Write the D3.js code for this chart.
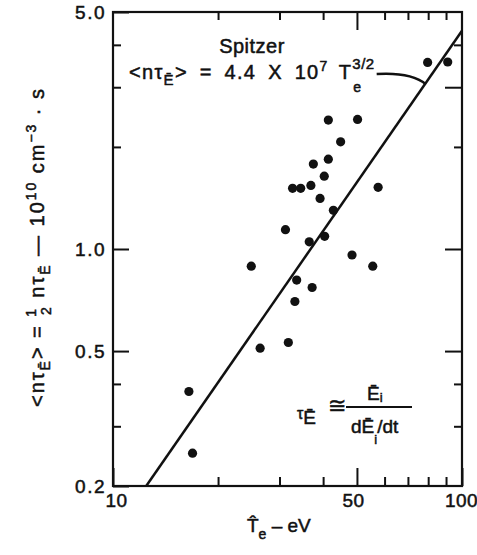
<!DOCTYPE html>
<html>
<head>
<meta charset="utf-8">
<script src="https://cdn.jsdelivr.net/npm/d3@7"></script>
<style>
  body { margin: 0; background: #fff; }
  text { font-family: "Liberation Sans", Arial, sans-serif; fill: #111; stroke: #111; stroke-width: 0.5px; }
</style>
</head>
<body>
<script>
// electron temperature (eV) and confinement parameter <n tau_E> (1e10 cm^-3 s)
const temps = [41.4, 50.2, 44.9, 41.4, 37.5, 40.3, 36.9, 32.7, 34.5, 39.2, 57.5, 42.8, 31.2, 36.5,
               40.4, 24.9, 48.4, 55.5, 33.6, 37.2, 33.2, 31.8, 26.4, 16.5, 16.9, 79.7, 91.0];
const ntau  = [2.40, 2.41, 2.07, 1.84, 1.78, 1.64, 1.54, 1.51, 1.51, 1.41, 1.52, 1.30, 1.14, 1.05,
               1.09, 0.89, 0.96, 0.89, 0.81, 0.77, 0.70, 0.53, 0.51, 0.38, 0.25, 3.55, 3.56];

// Spitzer line end points
const spitzerT = [12.45, 100];
const spitzerN = [0.2, 4.4];

const xLabelTicks = [10, 50, 100];
const xMinorTicks = [20, 30, 40, 60, 70, 80, 90];
const yLabelTicks = [0.2, 0.5, 1.0, 5.0];
const yMinorTicks = [0.3, 0.4, 2, 3, 4];

const W = 477, H = 555;
const pl = 113, pr = 462, pt = 12, pb = 486;

const svg = d3.select('body').append('svg')
    .attr('width', W)
    .attr('height', H);

const x = d3.scaleLog().domain([10, 100]).range([pl, pr]);
const y = d3.scaleLog().domain([0.2, 5]).range([pb, pt]);

// ticks, all pointing inward
function ticks(axis, tr, ls) {
  const g = svg.append('g').attr('transform', tr).call(axis);
  g.select('.domain').remove();
  g.selectAll('line').attr('stroke', '#111').attr('stroke-width', 2);
  g.selectAll('text').attr('font-size', 19).attr('fill', '#111')
    .attr('letter-spacing', ls || 0).style('font-family', '"Liberation Sans", Arial, sans-serif');
  return g;
}

const xb = ticks(d3.axisBottom(x).tickValues(xLabelTicks).tickSize(-18).tickPadding(8).tickFormat(d3.format('d')), `translate(0,${pb})`, 0.5);
xb.selectAll('text').attr('dx', d => d === 100 ? -1 : d === 10 ? 3 : -4);
ticks(d3.axisBottom(x).tickValues(xMinorTicks).tickSize(-9).tickFormat(''), `translate(0,${pb})`);
ticks(d3.axisTop(x).tickValues([50]).tickSize(-18).tickFormat(''), `translate(0,${pt})`);
ticks(d3.axisTop(x).tickValues(xMinorTicks).tickSize(-8).tickFormat(''), `translate(0,${pt})`);

ticks(d3.axisLeft(y).tickValues(yLabelTicks).tickSize(-16).tickPadding(7).tickFormat(d3.format('.1f')), `translate(${pl},0)`, 1.5);
ticks(d3.axisLeft(y).tickValues(yMinorTicks).tickSize(-8).tickFormat(''), `translate(${pl},0)`);
ticks(d3.axisRight(y).tickValues([0.5, 1, 3]).tickSize(-17).tickFormat(''), `translate(${pr},0)`);
ticks(d3.axisRight(y).tickValues([0.3, 0.4, 2, 4]).tickSize(-8).tickFormat(''), `translate(${pr},0)`);

// frame
svg.append('rect')
    .attr('x', pl).attr('y', pt)
    .attr('width', pr - pl).attr('height', pb - pt)
    .attr('fill', 'none').attr('stroke', '#111').attr('stroke-width', 2.2);

// Spitzer line
const line = d3.line().x(d => x(d[0])).y(d => y(d[1]));
svg.append('path')
    .datum(d3.zip(spitzerT, spitzerN))
    .attr('d', line)
    .attr('fill', 'none').attr('stroke', '#111').attr('stroke-width', 2.5);

// data points
svg.selectAll('circle.pt')
    .data(d3.zip(temps, ntau))
    .enter()
    .append('circle')
    .attr('class', 'pt')
    .attr('cx', d => x(d[0]))
    .attr('cy', d => y(d[1]))
    .attr('r', 4.6)
    .attr('fill', '#111');

// Spitzer annotation
svg.append('text').attr('x', 252).attr('y', 53).attr('text-anchor', 'middle')
    .attr('font-size', 20).attr('letter-spacing', 0.5).text('Spitzer');

const f = svg.append('text').attr('x', 129).attr('y', 79).attr('font-size', 20)
    .attr('letter-spacing', 1.3).attr('word-spacing', 5);
f.append('tspan').text('<nτ');
f.append('tspan').attr('font-size', 15).attr('dy', 6).text('Ē');
f.append('tspan').attr('dy', -6).text('> = 4.4 X 10');
f.append('tspan').attr('font-size', 14).attr('dy', -8).attr('letter-spacing', 0).text('7');
f.append('tspan').attr('dy', 8).text(' T');
f.append('tspan').attr('font-size', 15).attr('dy', -10).attr('letter-spacing', 0.5).text('3/2');
const full = f.text();
const ex = f.node().getStartPositionOfChar(full.indexOf('3/2')).x;
const fb = f.node().getBBox();
svg.append('text').attr('x', ex + 1).attr('y', 92).attr('font-size', 14).text('e');

// leader curve from label to the line
const lv = y.invert(84);
const lx = x(100 * Math.pow(lv / 4.4, 2 / 3)), ly = y(lv);
const sx = fb.x + fb.width + 2;
svg.append('path')
    .attr('d', `M${sx},74 Q${lx - 14},${ly - 12} ${lx},${ly}`)
    .attr('fill', 'none').attr('stroke', '#111').attr('stroke-width', 2.4);

// tau_E definition
const t = svg.append('text').attr('x', 297).attr('y', 424).attr('font-size', 19);
t.append('tspan').attr('font-size', 16).attr('dy', -5).text('τ');
t.append('tspan').attr('dy', 5).text('Ē');
svg.append('text').attr('x', 328).attr('y', 413).attr('font-size', 22).text('≅');
svg.append('line').attr('x1', 346).attr('x2', 412).attr('y1', 407).attr('y2', 407)
    .attr('stroke', '#111').attr('stroke-width', 2);
const num = svg.append('text').attr('x', 367).attr('y', 400).attr('font-size', 19);
num.append('tspan').text('Ē');
num.append('tspan').attr('font-size', 13).attr('dy', 2).text('i');
const den = svg.append('text').attr('x', 351).attr('y', 433).attr('font-size', 19);
den.append('tspan').text('dĒ');
den.append('tspan').attr('font-size', 13).attr('dy', 11).text('i');
den.append('tspan').attr('dy', -11).text('/dt');

// x axis title
const xt = svg.append('text').attr('x', 247).attr('y', 532).attr('font-size', 19);
xt.append('tspan').text('T̂');
xt.append('tspan').attr('font-size', 14).attr('dy', 7).text('e');
xt.append('tspan').attr('dy', -7).text(' – eV');

// y axis title (rotated)
const yt = svg.append('text')
    .attr('transform', 'translate(44,248) rotate(-90)')
    .attr('text-anchor', 'middle')
    .attr('font-size', 20)
    .attr('textLength', 318).attr('lengthAdjust', 'spacing');
yt.append('tspan').text('<nτ');
yt.append('tspan').attr('font-size', 14).attr('dy', 6).text('Ē');
yt.append('tspan').attr('dy', -6).text('> = ');
yt.append('tspan').attr('font-size', 14).attr('dy', -8).text('1');
yt.append('tspan').attr('font-size', 14).attr('dx', -8).attr('dy', 15).text('2');
yt.append('tspan').attr('dy', -7).text(' nτ');
yt.append('tspan').attr('font-size', 14).attr('dy', 6).text('Ē');
yt.append('tspan').attr('dy', -6).text(' — 10');
yt.append('tspan').attr('font-size', 14).attr('dy', -8).text('10');
yt.append('tspan').attr('dy', 8).text(' cm');
yt.append('tspan').attr('font-size', 14).attr('dy', -8).text('−3');
yt.append('tspan').attr('dy', 8).text(' · s');
</script>
</body>
</html>
